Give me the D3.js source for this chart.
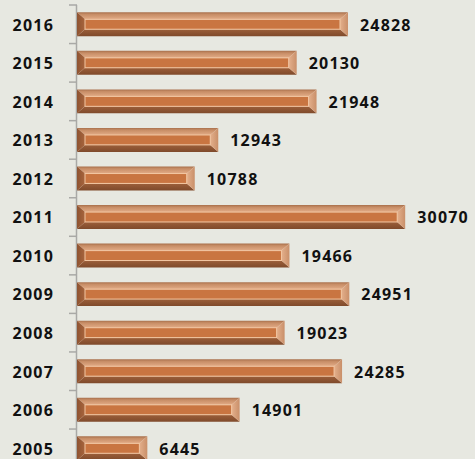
<!DOCTYPE html>
<html>
<head>
<meta charset="utf-8">
<script src="https://cdn.jsdelivr.net/npm/d3@7"></script>
<style>
html,body{margin:0;padding:0;background:#e7e8e1;}
svg{display:block;}
text{font-family:"Open Sans",sans-serif;font-weight:700;font-size:16px;fill:#111;letter-spacing:1.2px;}
</style>
</head>
<body>
<script>
const years = ["2016","2015","2014","2013","2012","2011","2010","2009","2008","2007","2006","2005"];
const values = [24828,20130,21948,12943,10788,30070,19466,24951,19023,24285,14901,6445];
const xDomain = [0, 35000];

const W = 475, H = 459;
const svg = d3.select("body").append("svg").attr("width", W).attr("height", H);

svg.append("rect").attr("width", W).attr("height", H).attr("fill", "#e7e8e1");

const x = d3.scaleLinear().domain(xDomain).range([77, 459]);
const y = d3.scaleBand().domain(years).range([5, 467.6]).paddingInner(0.38).paddingOuter(0.19);

const defs = svg.append("defs");
function vgrad(id, stops){
  const g = defs.append("linearGradient").attr("id", id).attr("x1",0).attr("y1",0).attr("x2",0).attr("y2",1);
  stops.forEach(s => g.append("stop").attr("offset", s[0]).attr("stop-color", s[1]));
}
function hgrad(id, stops){
  const g = defs.append("linearGradient").attr("id", id).attr("x1",0).attr("y1",0).attr("x2",1).attr("y2",0);
  stops.forEach(s => g.append("stop").attr("offset", s[0]).attr("stop-color", s[1]));
}
vgrad("gTop", [[0,"#a9704c"],[0.3,"#c78d66"],[1,"#e2ab86"]]);
vgrad("gBot", [[0,"#9c5f3a"],[1,"#7f4a2b"]]);
hgrad("gLeft", [[0,"#8e5331"],[1,"#a8653d"]]);
hgrad("gRight", [[0,"#e4b08c"],[1,"#c98f69"]]);

// axis
const step = y.step();
const gap = (step - y.bandwidth())/2;
const axis = svg.append("g");
axis.append("line").attr("x1",76.5).attr("x2",76.5).attr("y1",y.range()[0]).attr("y2",y.range()[1])
  .attr("stroke","#a9a9a6").attr("stroke-width",1.5);
const bounds = years.map(d => y(d) - gap).concat([y(years[years.length-1]) + y.bandwidth() + gap]);
axis.selectAll("line.tick").data(bounds).enter().append("line").attr("class","tick")
  .attr("x1",69).attr("x2",77).attr("y1",d=>d).attr("y2",d=>d)
  .attr("stroke","#a9a9a6").attr("stroke-width",1.5);

const bx = 8, by = 7;
const bars = svg.selectAll("g.bar").data(years.map((d,i)=>({year:d, value:values[i]}))).enter()
  .append("g").attr("class","bar");

bars.each(function(d){
  const g = d3.select(this);
  const x0 = x(0), x1 = x(d.value), y0 = y(d.year), y1 = y0 + y.bandwidth();
  const pts = a => a.map(p => p.join(",")).join(" ");
  g.append("polygon").attr("points", pts([[x0,y0],[x1,y0],[x1-bx,y0+by],[x0+bx,y0+by]])).attr("fill","url(#gTop)");
  g.append("polygon").attr("points", pts([[x0,y1],[x1,y1],[x1-bx,y1-by],[x0+bx,y1-by]])).attr("fill","url(#gBot)");
  g.append("polygon").attr("points", pts([[x0,y0],[x0+bx,y0+by],[x0+bx,y1-by],[x0,y1]])).attr("fill","url(#gLeft)");
  g.append("polygon").attr("points", pts([[x1,y0],[x1-bx,y0+by],[x1-bx,y1-by],[x1,y1]])).attr("fill","url(#gRight)");
  g.append("rect").attr("x",x0+bx).attr("y",y0+by).attr("width",Math.max(0,x1-x0-2*bx)).attr("height",y1-y0-2*by)
    .attr("fill","#c97541").attr("stroke","#f2c6a2").attr("stroke-width",1);
});

bars.append("text")
  .attr("x", d => x(d.value) + 12)
  .attr("y", d => y(d.year) + y.bandwidth()/2 + 2)
  .attr("dominant-baseline","middle")
  .text(d => d.value);

svg.selectAll("text.year").data(years).enter().append("text").attr("class","year")
  .attr("x", 54)
  .attr("y", d => y(d) + y.bandwidth()/2 + 2)
  .attr("text-anchor","end")
  .attr("dominant-baseline","middle")
  .text(d => d);
</script>
</body>
</html>
